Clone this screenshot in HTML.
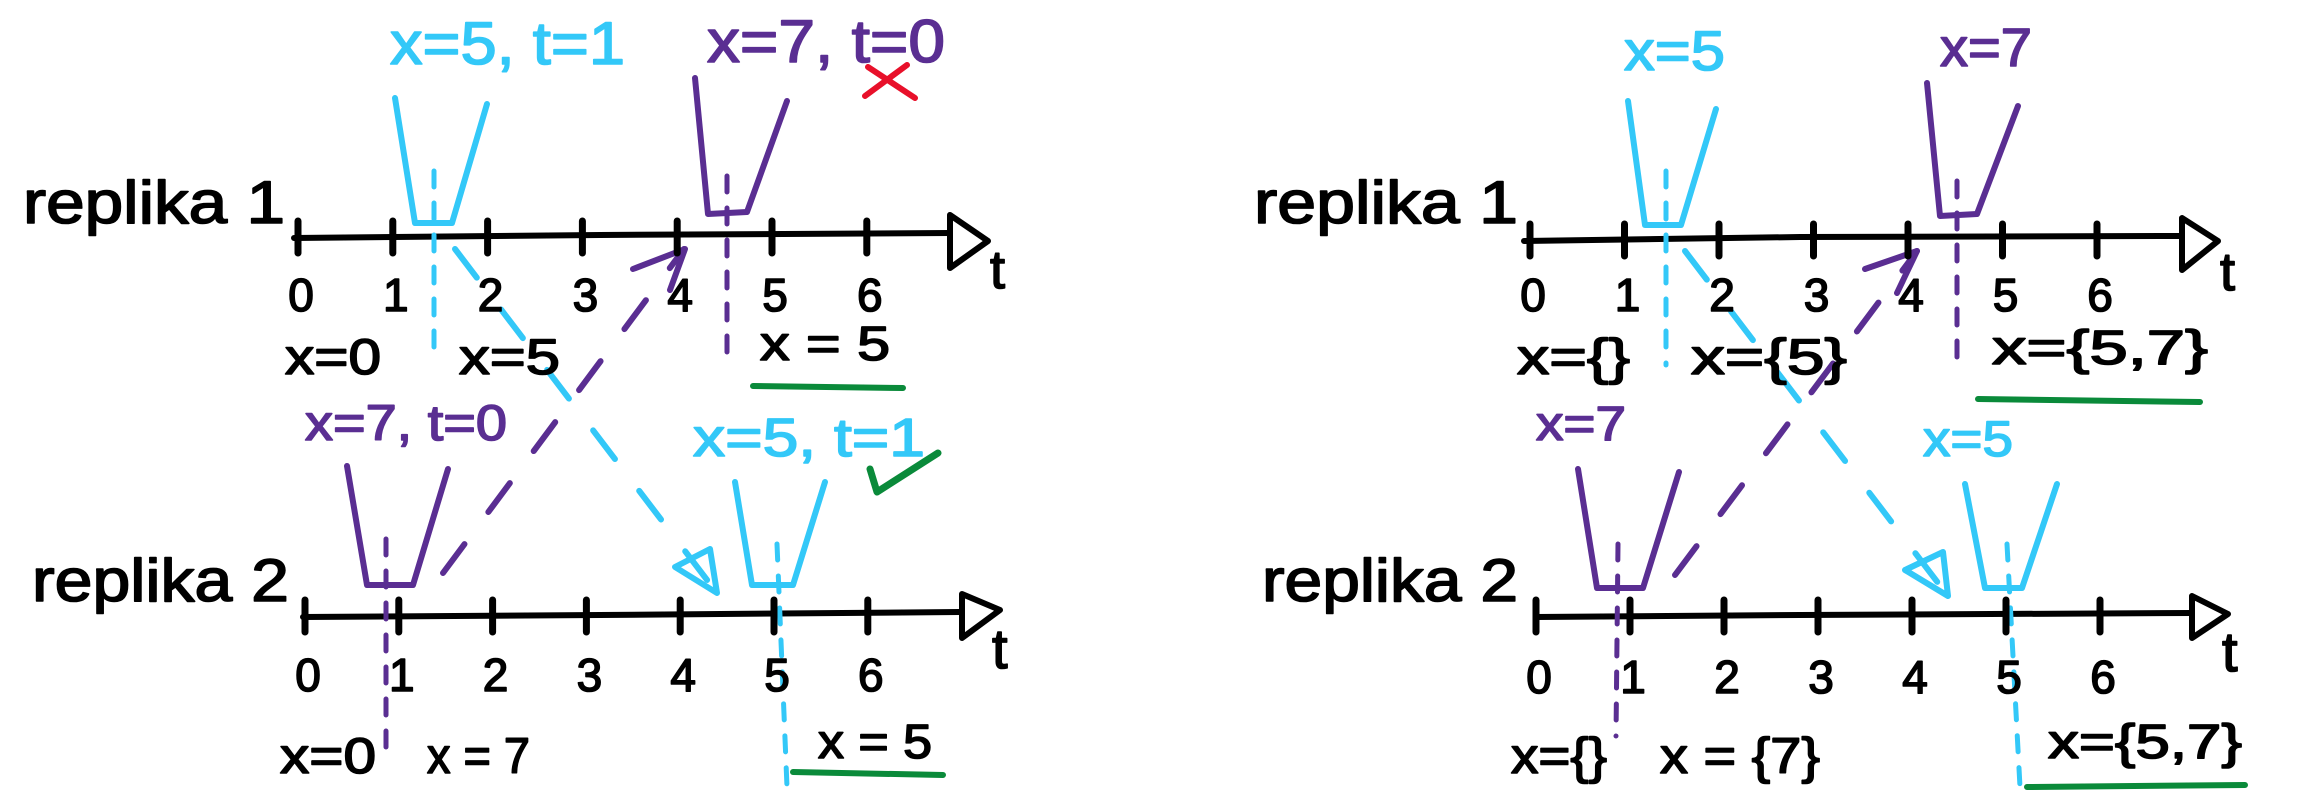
<!DOCTYPE html>
<html><head><meta charset="utf-8"><style>
html,body{margin:0;padding:0;background:#fff;}
svg{display:block}
text{font-family:"Liberation Sans",sans-serif;stroke-width:1.6px;}
</style></head><body>
<svg id="c" width="2306" height="809" viewBox="0 0 2306 809" xmlns="http://www.w3.org/2000/svg">
<g fill="none" stroke-linecap="round" stroke-linejoin="round">

<!-- LEFT PANEL -->
<g>
<text x="23" y="223" font-size="60" textLength="262" lengthAdjust="spacingAndGlyphs" fill="#000" stroke="#000">replika 1</text>
<text x="32" y="601" font-size="60" textLength="257" lengthAdjust="spacingAndGlyphs" fill="#000" stroke="#000">replika 2</text>

<path d="M294 238 L600 235 L950 233" stroke="#000" stroke-width="6"/>
<path d="M950 215 L950 268 L988 241 Z" stroke="#000" stroke-width="6"/>
<text x="990" y="288" font-size="54" fill="#000" stroke="#000">t</text>
<path d="M303 617 L600 615 L960 612" stroke="#000" stroke-width="6"/>
<path d="M962 594 L962 638 L1000 610 Z" stroke="#000" stroke-width="6"/>
<text x="992" y="668" font-size="56" fill="#000" stroke="#000">t</text>

<!-- cyan top -->
<text x="390" y="64" font-size="60" textLength="235" lengthAdjust="spacingAndGlyphs" fill="#33c8f8" stroke="#33c8f8">x=5, t=1</text>
<path d="M395 98 L415 223 L452 223 L487 104" stroke="#33c8f8" stroke-width="6"/>
<path d="M434 171 L434 363" stroke="#33c8f8" stroke-width="5" stroke-dasharray="16 16"/>
<path d="M455 249 L717 593" stroke="#33c8f8" stroke-width="6" stroke-dasharray="36 40"/>
<path d="M675 567 L710 549 L717 593 Z" stroke="#33c8f8" stroke-width="6"/>

<!-- purple top -->
<text x="707" y="62" font-size="60" textLength="238" lengthAdjust="spacingAndGlyphs" fill="#5a2e92" stroke="#5a2e92">x=7, t=0</text>
<path d="M868 67 L915 98 M865 96 L907 65" stroke="#e8102a" stroke-width="6"/>
<path d="M695 78 L708 214 L747 212 L787 101" stroke="#5a2e92" stroke-width="6"/>
<path d="M727 176 L727 363" stroke="#5a2e92" stroke-width="5" stroke-dasharray="16 16"/>
<text x="760" y="360" font-size="48" textLength="130" lengthAdjust="spacingAndGlyphs" fill="#000" stroke="#000">x = 5</text>
<path d="M753 386 L903 388" stroke="#0a8a3a" stroke-width="6"/>

<!-- purple bottom -->
<text x="305" y="440" font-size="50" textLength="202" lengthAdjust="spacingAndGlyphs" fill="#5a2e92" stroke="#5a2e92">x=7, t=0</text>
<path d="M347 466 L367 585 L413 585 L448 469" stroke="#5a2e92" stroke-width="6"/>
<path d="M386 539 L386 762" stroke="#5a2e92" stroke-width="5" stroke-dasharray="16 16"/>
<path d="M443 573 L684 249" stroke="#5a2e92" stroke-width="6" stroke-dasharray="36 40"/>
<path d="M633 269 L685 249 L670 290" stroke="#5a2e92" stroke-width="6"/>

<!-- cyan bottom -->
<text x="693" y="456" font-size="54" textLength="232" lengthAdjust="spacingAndGlyphs" fill="#33c8f8" stroke="#33c8f8">x=5, t=1</text>
<path d="M870 469 L877 492 L938 453" stroke="#0a8a3a" stroke-width="7"/>
<path d="M735 482 L752 585 L793 585 L825 482" stroke="#33c8f8" stroke-width="6"/>
<path d="M777 544 L787 787" stroke="#33c8f8" stroke-width="5" stroke-dasharray="16 16"/>
<text x="818" y="758" font-size="48" textLength="114" lengthAdjust="spacingAndGlyphs" fill="#000" stroke="#000">x = 5</text>
<path d="M793 772 L943 775" stroke="#0a8a3a" stroke-width="6"/>

<text x="285" y="374" font-size="50" textLength="96" lengthAdjust="spacingAndGlyphs" fill="#000" stroke="#000">x=0</text>
<text x="459" y="374" font-size="50" textLength="101" lengthAdjust="spacingAndGlyphs" fill="#000" stroke="#000">x=5</text>
<text x="280" y="773" font-size="50" textLength="96" lengthAdjust="spacingAndGlyphs" fill="#000" stroke="#000">x=0</text>
<text x="427" y="773" font-size="50" textLength="103" lengthAdjust="spacingAndGlyphs" fill="#000" stroke="#000">x = 7</text>
</g>

<!-- RIGHT PANEL -->
<g>
<text x="1254" y="223" font-size="60" textLength="264" lengthAdjust="spacingAndGlyphs" fill="#000" stroke="#000">replika 1</text>
<text x="1262" y="601" font-size="60" textLength="256" lengthAdjust="spacingAndGlyphs" fill="#000" stroke="#000">replika 2</text>

<path d="M1524 241 L1800 237 L2182 236" stroke="#000" stroke-width="6"/>
<path d="M2182 218 L2182 270 L2218 241 Z" stroke="#000" stroke-width="6"/>
<text x="2220" y="290" font-size="54" fill="#000" stroke="#000">t</text>
<path d="M1536 617 L1800 615 L2192 613" stroke="#000" stroke-width="6"/>
<path d="M2192 596 L2192 638 L2228 614 Z" stroke="#000" stroke-width="6"/>
<text x="2222" y="671" font-size="56" fill="#000" stroke="#000">t</text>

<text x="1624" y="70" font-size="56" textLength="101" lengthAdjust="spacingAndGlyphs" fill="#33c8f8" stroke="#33c8f8">x=5</text>
<path d="M1628 101 L1645 225 L1681 225 L1716 109" stroke="#33c8f8" stroke-width="6"/>
<path d="M1666 171 L1666 365" stroke="#33c8f8" stroke-width="5" stroke-dasharray="16 16"/>
<path d="M1685 251 L1948 596" stroke="#33c8f8" stroke-width="6" stroke-dasharray="36 40"/>
<path d="M1905 570 L1943 552 L1948 596 Z" stroke="#33c8f8" stroke-width="6"/>

<text x="1940" y="66" font-size="54" textLength="92" lengthAdjust="spacingAndGlyphs" fill="#5a2e92" stroke="#5a2e92">x=7</text>
<path d="M1927 83 L1940 216 L1977 214 L2018 106" stroke="#5a2e92" stroke-width="6"/>
<path d="M1957 181 L1957 368" stroke="#5a2e92" stroke-width="5" stroke-dasharray="16 16"/>
<text x="1992" y="364" font-size="48" textLength="216" lengthAdjust="spacingAndGlyphs" fill="#000" stroke="#000">x={5,7}</text>
<path d="M1978 399 L2200 402" stroke="#0a8a3a" stroke-width="6"/>

<text x="1536" y="440" font-size="48" textLength="90" lengthAdjust="spacingAndGlyphs" fill="#5a2e92" stroke="#5a2e92">x=7</text>
<path d="M1578 469 L1597 588 L1643 588 L1679 472" stroke="#5a2e92" stroke-width="6"/>
<path d="M1618 544 L1616 736" stroke="#5a2e92" stroke-width="5" stroke-dasharray="16 16"/>
<path d="M1675 575 L1917 251" stroke="#5a2e92" stroke-width="6" stroke-dasharray="36 40"/>
<path d="M1865 269 L1917 251 L1897 293" stroke="#5a2e92" stroke-width="6"/>

<text x="1923" y="456" font-size="50" textLength="90" lengthAdjust="spacingAndGlyphs" fill="#33c8f8" stroke="#33c8f8">x=5</text>
<path d="M1965 484 L1985 588 L2022 588 L2057 484" stroke="#33c8f8" stroke-width="6"/>
<path d="M2007 544 L2020 787" stroke="#33c8f8" stroke-width="5" stroke-dasharray="16 16"/>
<text x="2048" y="758" font-size="48" textLength="194" lengthAdjust="spacingAndGlyphs" fill="#000" stroke="#000">x={5,7}</text>
<path d="M2027 787 L2245 785" stroke="#0a8a3a" stroke-width="6"/>

<text x="1517" y="374" font-size="50" textLength="113" lengthAdjust="spacingAndGlyphs" fill="#000" stroke="#000">x={}</text>
<text x="1691" y="374" font-size="50" textLength="156" lengthAdjust="spacingAndGlyphs" fill="#000" stroke="#000">x={5}</text>
<text x="1511" y="773" font-size="50" textLength="96" lengthAdjust="spacingAndGlyphs" fill="#000" stroke="#000">x={}</text>
<text x="1660" y="773" font-size="50" textLength="160" lengthAdjust="spacingAndGlyphs" fill="#000" stroke="#000">x = {7}</text>
</g>
<g id="ticks"></g>
</g>
</svg>
<script>
var tickValues = [0, 1, 2, 3, 4, 5, 6];
var tickLabels = ["0", "1", "2", "3", "4", "5", "6"];
var axes = [
  {x0: 298, step: 94.8, y: 236, ly: 311},
  {x0: 305, step: 93.8, y: 615, ly: 691},
  {x0: 1530, step: 94.5, y: 239, ly: 311},
  {x0: 1536, step: 94.0, y: 615, ly: 693}
];
var NS = "http://www.w3.org/2000/svg";
var g = document.getElementById("ticks");
axes.forEach(function (a) {
  function xs(t) { return a.x0 + t * a.step; }
  tickValues.forEach(function (t, i) {
    var l = document.createElementNS(NS, "line");
    l.setAttribute("x1", xs(t)); l.setAttribute("x2", xs(t));
    l.setAttribute("y1", a.y - 15); l.setAttribute("y2", a.y + 17);
    l.setAttribute("stroke", "#000"); l.setAttribute("stroke-width", "7");
    
    
    g.appendChild(l);
    var tx = document.createElementNS(NS, "text");
    tx.setAttribute("x", xs(t) + 3); tx.setAttribute("y", a.ly);
    tx.setAttribute("font-size", "46"); tx.setAttribute("text-anchor", "middle");
    tx.setAttribute("fill", "#000"); tx.setAttribute("stroke", "#000");
    tx.textContent = tickLabels[i];
    
    
    g.appendChild(tx);
  });
});
</script>
</body></html>
